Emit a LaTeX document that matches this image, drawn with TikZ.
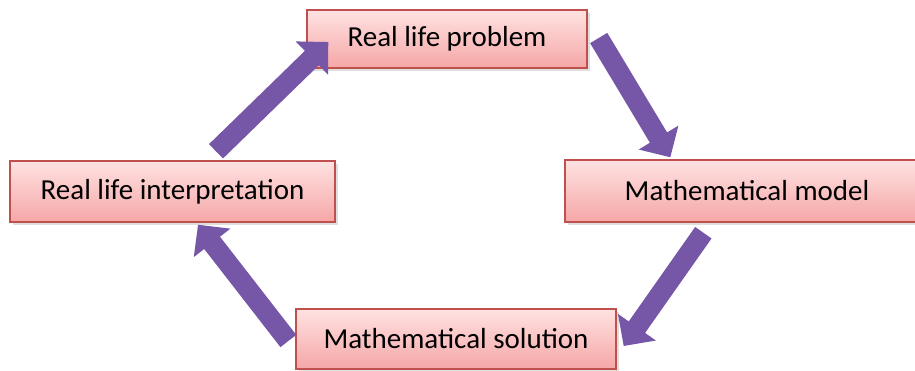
\documentclass[tikz,border=0pt]{standalone}
\usepackage{fontspec}
\setmainfont{Carlito}
\usepackage{tikz}
\usetikzlibrary{arrows.meta,shadows}
\definecolor{softpink}{RGB}{255,226,226}
\definecolor{deeppink}{RGB}{245,166,166}
\definecolor{edgered}{RGB}{192,80,77}
\definecolor{cyclepurple}{RGB}{118,86,166}

\begin{document}
\begin{tikzpicture}[x=0.02cm, y=-0.02cm,
    stage/.style={draw=edgered, line width=0.8pt, top color=softpink, bottom color=deeppink,
      drop shadow={opacity=0.25, shadow xshift=1.5pt, shadow yshift=-1.5pt},
      font=\fontsize{16.5}{20}\selectfont, inner sep=0pt},
    looparrow/.style={draw=cyclepurple, line width=0.4cm, -{Triangle[length=0.46cm, width=0.9cm]}}]
\useasboundingbox (0,0) rectangle (915,371);
\clip (0,0) rectangle (915,371);

% the four stages
\node[stage, minimum width=5.6cm, minimum height=1.16cm] (prob) at (447,39) {Real life problem};
\node[stage, minimum width=7.28cm, minimum height=1.24cm] (model) at (747,191) {Mathematical model};
\node[stage, minimum width=6.5cm, minimum height=1.22cm] (interp) at (172.5,191.5) {Real life interpretation};
\node[stage, minimum width=6.4cm, minimum height=1.2cm] (sol) at (456,339) {Mathematical solution};

% block arrows round the cycle
\draw[looparrow] ([shift={(11,-1)}]prob.east) -- ([shift={(106,-2)}]model.north west);
\draw[looparrow] ([shift={(139,10)}]model.south west) -- ([shift={(7,7)}]sol.east);
\draw[looparrow] ([shift={(-7,2)}]sol.west) -- ([shift={(25.5,2)}]interp.south);
\draw[looparrow] ([shift={(43.5,-9)}]interp.north) -- ([shift={(22,3)}]prob.west);
\end{tikzpicture}
\end{document}
